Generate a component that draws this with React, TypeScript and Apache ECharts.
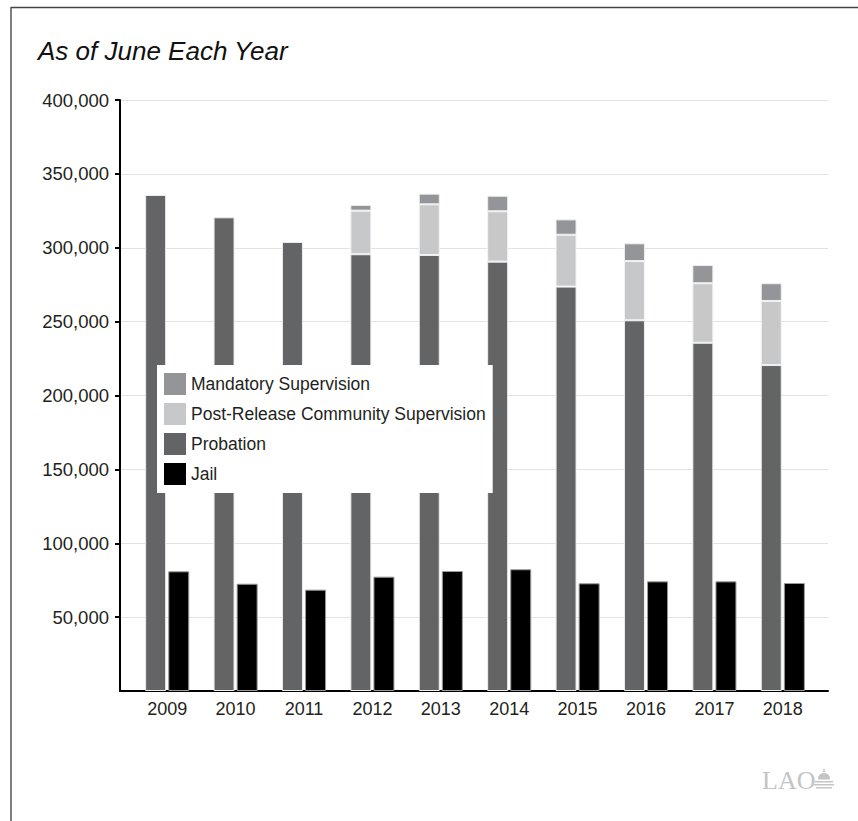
import React, { useEffect, useRef } from "react";
import * as echarts from "echarts";

const years = ["2009", "2010", "2011", "2012", "2013", "2014", "2015", "2016", "2017", "2018"];
const probation = [335700, 320600, 303900, 295600, 295100, 290600, 273700, 250900, 235700, 220600];
const prcs = [null, null, null, 29500, 34300, 34100, 35100, 40100, 40300, 43400];
const mandatory = [null, null, null, 3900, 7200, 10500, 10400, 12000, 12300, 12000];
const jail = [81000, 72600, 68600, 77400, 81200, 82400, 72900, 74200, 74200, 73100];
const legendOrder = ["Mandatory Supervision", "Post-Release Community Supervision", "Probation", "Jail"];

const FONT = "'Liberation Sans', Arial, Helvetica, sans-serif";
const TEXT = "#231f20";

const domePath =
  "M9.2 0 L10.8 0 L10.8 3 L9.2 3 Z M4 10.5 Q4 4 10 4 Q16 4 16 10.5 Z M1 12 L19 12 L19 13.4 L1 13.4 Z M0 15 L20 15 L20 16.4 L0 16.4 Z M2 18 L18 18 L18 19.4 L2 19.4 Z";
let registered = false;

export default function App() {
  const ref = useRef<HTMLDivElement>(null);
  useEffect(() => {
    if (!ref.current) return;
    if (!registered) {
      echarts.graphic.registerShape("laodome", echarts.graphic.extendPath(domePath, {}) as any);
      registered = true;
    }
    const chart = echarts.init(ref.current, null, { renderer: "svg" });
    const top = 100;
    const bottom = 130;
    chart.setOption({
      animation: false,
      backgroundColor: "#fff",
      textStyle: { fontFamily: FONT },
      title: {
        text: "As of June Each Year",
        left: 38,
        top: 38,
        padding: 0,
        textStyle: { fontFamily: FONT, fontSize: 26, fontStyle: "italic", fontWeight: "normal", color: "#111" },
      },
      legend: {
        data: legendOrder,
        orient: "vertical",
        left: 157,
        top: 365,
        itemWidth: 22,
        itemHeight: 22,
        itemGap: 8,
        padding: [8, 7, 8, 7],
        backgroundColor: "#fff",
        icon: "rect",
        itemStyle: { borderWidth: 0 },
        textStyle: { fontFamily: FONT, fontSize: 17.5, color: TEXT },
        selectedMode: false,
      },
      grid: [
        { left: 120, right: 30, top, bottom },
        { left: 133, right: 41, top, bottom },
      ],
      xAxis: [
        {
          type: "value",
          gridIndex: 0,
          min: 0,
          max: 1,
          axisLine: { show: true, lineStyle: { color: "#000", width: 2 } },
          axisTick: { show: false },
          axisLabel: { show: false },
          splitLine: { show: false },
        },
        {
          type: "category",
          gridIndex: 1,
          data: years,
          axisLine: { show: false },
          axisTick: { show: false },
          axisLabel: { fontFamily: FONT, fontSize: 18, color: TEXT, margin: 9 },
        },
      ],
      yAxis: [
        {
          type: "value",
          gridIndex: 0,
          min: 0,
          max: 400000,
          interval: 50000,
          axisLine: { show: true, lineStyle: { color: "#000", width: 2 } },
          axisTick: { show: true, length: 5, lineStyle: { color: "#000", width: 2 } },
          axisLabel: {
            fontFamily: FONT,
            fontSize: 18.5,
            color: TEXT,
            margin: 11,
            showMinLabel: false,
            formatter: (v: number) => (v === 0 ? "" : v.toLocaleString("en-US")),
          },
          splitLine: { show: true, lineStyle: { color: "#e3e3e3", width: 1 } },
        },
        {
          type: "value",
          gridIndex: 1,
          min: 0,
          max: 400000,
          interval: 50000,
          show: false,
          splitLine: { show: false },
        },
      ],
      series: [
        {
          name: "Probation",
          type: "bar",
          xAxisIndex: 1,
          yAxisIndex: 1,
          stack: "sup",
          data: probation,
          barWidth: 21,
          barGap: "10%",
          itemStyle: { color: "#636466", borderColor: "#eeeeee", borderWidth: 1 },
        },
        {
          name: "Post-Release Community Supervision",
          type: "bar",
          xAxisIndex: 1,
          yAxisIndex: 1,
          stack: "sup",
          data: prcs,
          barWidth: 21,
          barGap: "10%",
          itemStyle: { color: "#c7c8ca", borderColor: "#f4f4f4", borderWidth: 1 },
        },
        {
          name: "Mandatory Supervision",
          type: "bar",
          xAxisIndex: 1,
          yAxisIndex: 1,
          stack: "sup",
          data: mandatory,
          barWidth: 21,
          barGap: "10%",
          itemStyle: { color: "#939598", borderColor: "#eeeeee", borderWidth: 1 },
        },
        {
          name: "Jail",
          type: "bar",
          xAxisIndex: 1,
          yAxisIndex: 1,
          data: jail,
          barWidth: 21,
          barGap: "10%",
          itemStyle: { color: "#000", borderColor: "#9a9a9a", borderWidth: 1 },
        },
      ],
      graphic: [
        { type: "line", shape: { x1: 11, y1: 7.5, x2: 858, y2: 7.5 }, style: { stroke: "#444", lineWidth: 1.5 }, silent: true },
        { type: "line", shape: { x1: 11, y1: 7, x2: 11, y2: 821 }, style: { stroke: "#555", lineWidth: 1.5 }, silent: true },
        {
          type: "text",
          left: 762,
          top: 767,
          style: { text: "LAO", fontFamily: "'Liberation Serif', 'DejaVu Serif', serif", fontSize: 26, fill: "#c4c4c4" },
          silent: true,
        },
        {
          type: "laodome",
          x: 814,
          y: 769,
          scaleX: 1,
          scaleY: 1,
          style: { fill: "#c4c4c4" },
          silent: true,
        },
      ],
    });
    return () => chart.dispose();
  }, []);
  return <div ref={ref} style={{ position: "absolute", left: 0, top: 0, width: 858, height: 821 }} />;
}
